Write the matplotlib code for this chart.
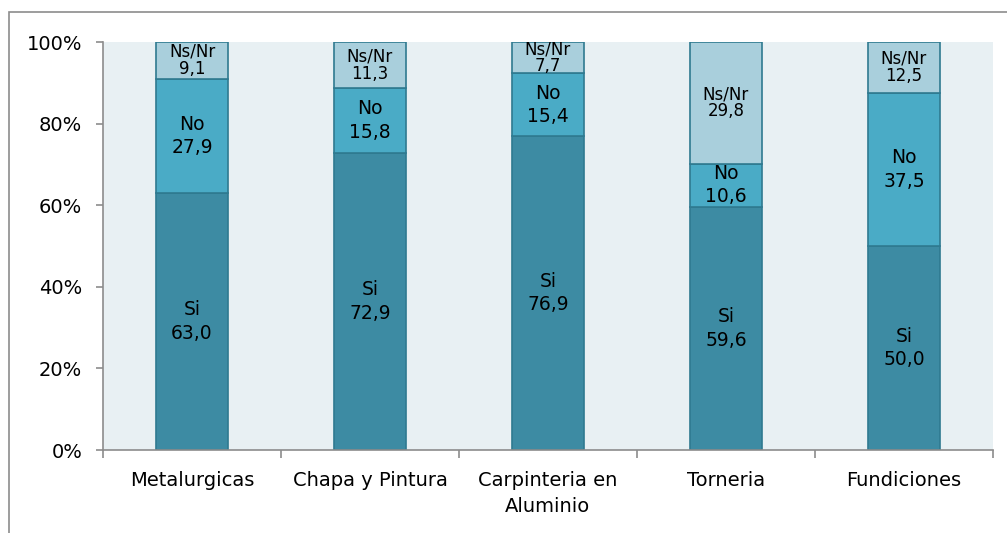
import matplotlib.pyplot as plt
import numpy as np
from matplotlib.patches import Rectangle

categories = ["Metalurgicas", "Chapa y Pintura", "Carpinteria en\nAluminio", "Torneria", "Fundiciones"]
si = [63.0, 72.9, 76.9, 59.6, 50.0]
no = [27.9, 15.8, 15.4, 10.6, 37.5]
nsnr = [9.1, 11.3, 7.7, 29.8, 12.5]

c_si = "#3d8ba3"
c_no = "#4aabc6"
c_ns = "#a9cfdc"
c_edge = "#2f7a90"

plt.rcParams['font.family'] = ['DejaVu Sans']

fig = plt.figure(figsize=(10.07, 5.33), dpi=100)
ax = fig.add_axes([0.1023, 0.1557, 0.8837, 0.7655])
ax.set_facecolor("#e8f0f3")

# outer frame (partially cut off like the original)
fig.patches.append(Rectangle((9 / 1007, -0.05), 1.1, 1 - 12 / 533 + 0.05,
                             transform=fig.transFigure, fill=False,
                             edgecolor="#8c8c8c", linewidth=1.2, zorder=0))

x = np.arange(len(categories))
w = 0.405
bot2 = np.array(si)
bot3 = bot2 + np.array(no)
ax.bar(x, si, w, color=c_si, edgecolor=c_edge, linewidth=1.2, zorder=2)
ax.bar(x, no, w, bottom=bot2, color=c_no, edgecolor=c_edge, linewidth=1.2, zorder=2)
ax.bar(x, nsnr, w, bottom=bot3, color=c_ns, edgecolor=c_edge, linewidth=1.2, zorder=2)

def fmt(v):
    return f"{v:.1f}".replace(".", ",")

for i in range(len(categories)):
    ax.text(x[i], si[i] / 2, "Si\n" + fmt(si[i]), ha="center", va="center",
            fontsize=13.5, linespacing=1.3, zorder=3)
    ax.text(x[i], bot2[i] + no[i] / 2, "No\n" + fmt(no[i]), ha="center", va="center",
            fontsize=13.5, linespacing=1.3, zorder=3)
    ax.text(x[i], bot3[i] + nsnr[i] / 2, "Ns/Nr\n" + fmt(nsnr[i]), ha="center", va="center",
            fontsize=12, linespacing=0.95, zorder=3)

ax.set_xlim(-0.5, len(categories) - 0.5)
ax.set_ylim(0, 100)
ax.set_yticks([0, 20, 40, 60, 80, 100])
ax.set_yticklabels(["0%", "20%", "40%", "60%", "80%", "100%"])
ax.set_xticks(x)
ax.set_xticklabels(categories, fontsize=14, linespacing=1.45)
ax.set_xticks(np.arange(-0.5, len(categories), 1), minor=True)
ax.tick_params(axis="x", which="major", length=0, pad=15)
ax.tick_params(axis="x", which="minor", length=6, color="#8c8c8c", width=1.2)
ax.tick_params(axis="y", length=5, color="#8c8c8c", width=1.2, labelsize=14, pad=10)

for s in ["top", "right"]:
    ax.spines[s].set_visible(False)
for s in ["left", "bottom"]:
    ax.spines[s].set_color("#8c8c8c")
    ax.spines[s].set_linewidth(1.2)

fig.savefig("out.png", dpi=100)
